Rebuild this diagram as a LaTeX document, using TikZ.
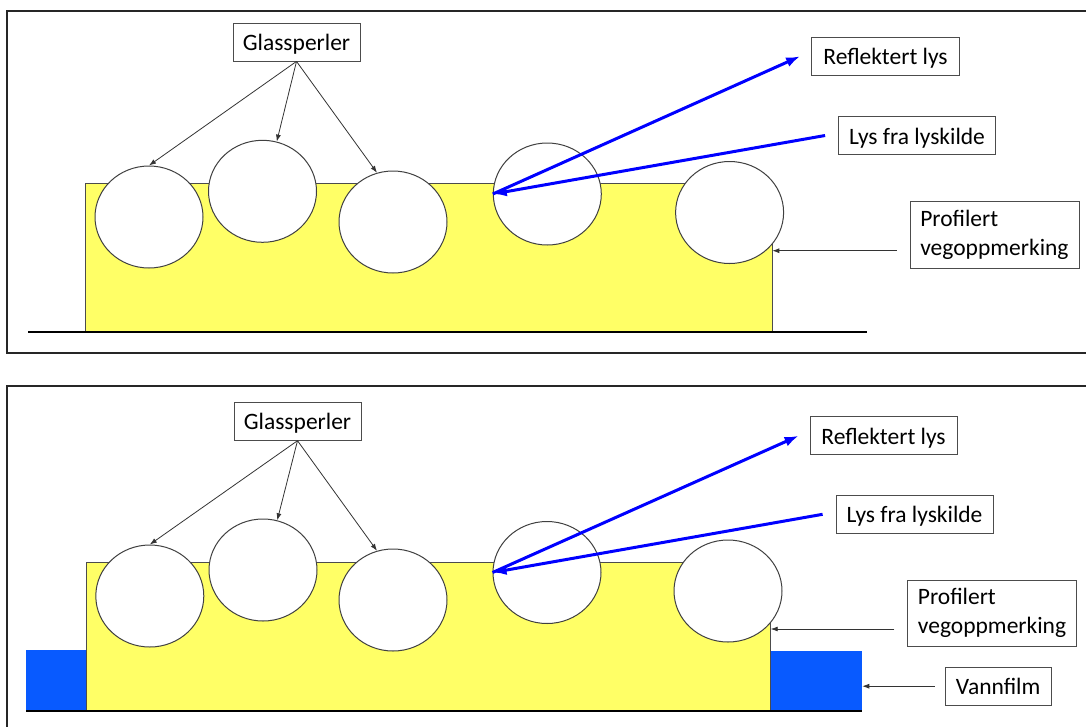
\documentclass[tikz,border=0pt]{standalone}
\usepackage{fontspec}
\setmainfont{Carlito}
\usetikzlibrary{arrows.meta}
\usetikzlibrary{shapes}

\definecolor{markyellow}{RGB}{255,255,102}
\definecolor{filmblue}{RGB}{8,90,255}

\begin{document}
\begin{tikzpicture}[x = 1pt, y = -1pt, font = \fontsize{23.5}{29}\selectfont]
	\tikzstyle{frameStyle} = [draw = black!85, line width = 1.6pt]
	\tikzstyle{groundStyle} = [draw = black, line width = 2pt]
	\tikzstyle{labelStyle} = [shape = rectangle, draw = black!70, line width = 0.8pt, fill = white, inner xsep = 8pt, inner ysep = 0pt, minimum height = 38pt]
	\tikzstyle{lineLabelStyle} = [labelStyle, text height = 17pt, text depth = 0pt]
	\tikzstyle{beadStyle} = [shape = ellipse, draw = black!75, line width = 1pt, fill = white, minimum width = 108pt, minimum height = 102pt, inner sep = 0pt]
	\tikzstyle{markStyle} = [shape = rectangle, draw = black!70, line width = 0.8pt, fill = markyellow, inner sep = 0pt]
	\tikzstyle{filmStyle} = [shape = rectangle, fill = filmblue, inner sep = 0pt]
	\tikzstyle{pointerStyle} = [draw = black!80, line width = 0.8pt, -{Latex[length = 7pt, width = 5pt]}]
	\tikzstyle{rayStyle} = [draw = blue, line width = 3pt, -{Latex[length = 14pt, width = 10pt]}]
	\useasboundingbox (0,0) rectangle (1086,726);
	\clip (0,0) rectangle (1086,726);
	% dry marking
	\draw[style = frameStyle] (7,11) rectangle (1100,353);
	\node[style = markStyle, minimum width = 687pt, minimum height = 148pt] (markA) at (428.4, 257.8) {};
	\draw[style = groundStyle] (28,332) -- (867,332);
	\node[style = beadStyle] (beadA1) at (149.0, 217.0) {};
	\node[style = beadStyle] (beadA2) at (262.5, 191.3) {};
	\node[style = beadStyle] (beadA3) at (393.0, 222.0) {};
	\node[style = beadStyle] (beadA4) at (547.3, 194.0) {};
	\node[style = beadStyle] (beadA5) at (729.6, 212.5) {};
	\node[style = lineLabelStyle, minimum width = 127pt] (glassA) at (296.5, 42.0) {Glassperler};
	\node[style = lineLabelStyle, minimum width = 148pt] (reflA) at (885.5, 56.3) {Reflektert lys};
	\node[style = lineLabelStyle, minimum width = 157pt] (lightA) at (917.0, 135.5) {Lys fra lyskilde};
	\node[style = labelStyle, minimum width = 169pt, minimum height = 67pt, align = left] (profA) at (994.4, 235.3) {Profilert\\vegoppmerking};
	\draw[style = pointerStyle] (glassA.south) -- (beadA1.90);
	\draw[style = pointerStyle] (glassA.south) -- (beadA2.74);
	\draw[style = pointerStyle] (glassA.south) -- (beadA3.108);
	\coordinate (hitA) at (beadA4.west);
	\draw[style = rayStyle] (hitA) -- ([xshift = -11pt]reflA.west);
	\draw[style = rayStyle] ([xshift = -13pt]lightA.west) -- (hitA);
	\coordinate (profTailA) at ([shift = {(-13pt, -15.4pt)}]profA.west);
	\draw[style = pointerStyle] (profTailA) -- (profTailA -| markA.east);
	% wet marking
	\draw[style = frameStyle] (7,385.7) rectangle (1100,740);
	\node[style = filmStyle, minimum width = 60.4pt, minimum height = 60.7pt] (filmB1) at (56.5, 680.3) {};
	\node[style = filmStyle, minimum width = 91.7pt, minimum height = 59.7pt] (filmB2) at (816.2, 680.9) {};
	\node[style = markStyle, minimum width = 683.6pt, minimum height = 148.4pt] (markB) at (428.5, 636.5) {};
	\draw[style = groundStyle] (26,711) -- (862,711);
	\node[style = beadStyle] (beadB1) at (149.8, 596.0) {};
	\node[style = beadStyle] (beadB2) at (263.0, 570.0) {};
	\node[style = beadStyle] (beadB3) at (393.0, 600.0) {};
	\node[style = beadStyle] (beadB4) at (547.0, 572.5) {};
	\node[style = beadStyle] (beadB5) at (728.0, 591.0) {};
	\node[style = lineLabelStyle, minimum width = 127pt] (glassB) at (297.5, 421.3) {Glassperler};
	\node[style = lineLabelStyle, minimum width = 147pt] (reflB) at (883.5, 435.8) {Reflektert lys};
	\node[style = lineLabelStyle, minimum width = 157pt] (lightB) at (914.5, 514.3) {Lys fra lyskilde};
	\node[style = labelStyle, minimum width = 169pt, minimum height = 66pt, align = left] (profB) at (992.0, 613.3) {Profilert\\vegoppmerking};
	\node[style = lineLabelStyle, minimum width = 105.6pt] (vannB) at (998.2, 686.2) {Vannfilm};
	\draw[style = pointerStyle] (glassB.south) -- (beadB1.90);
	\draw[style = pointerStyle] (glassB.south) -- (beadB2.74);
	\draw[style = pointerStyle] (glassB.south) -- (beadB3.108);
	\coordinate (hitB) at (beadB4.west);
	\draw[style = rayStyle] (hitB) -- ([xshift = -11pt]reflB.west);
	\draw[style = rayStyle] ([xshift = -13pt]lightB.west) -- (hitB);
	\coordinate (profTailB) at ([shift = {(-12.7pt, -15.7pt)}]profB.west);
	\draw[style = pointerStyle] (profTailB) -- (profTailB -| markB.east);
	\coordinate (vannTailB) at ([xshift = -10.4pt]vannB.west);
	\draw[style = pointerStyle] (vannTailB) -- (vannTailB -| filmB2.east);
\end{tikzpicture}
\end{document}
